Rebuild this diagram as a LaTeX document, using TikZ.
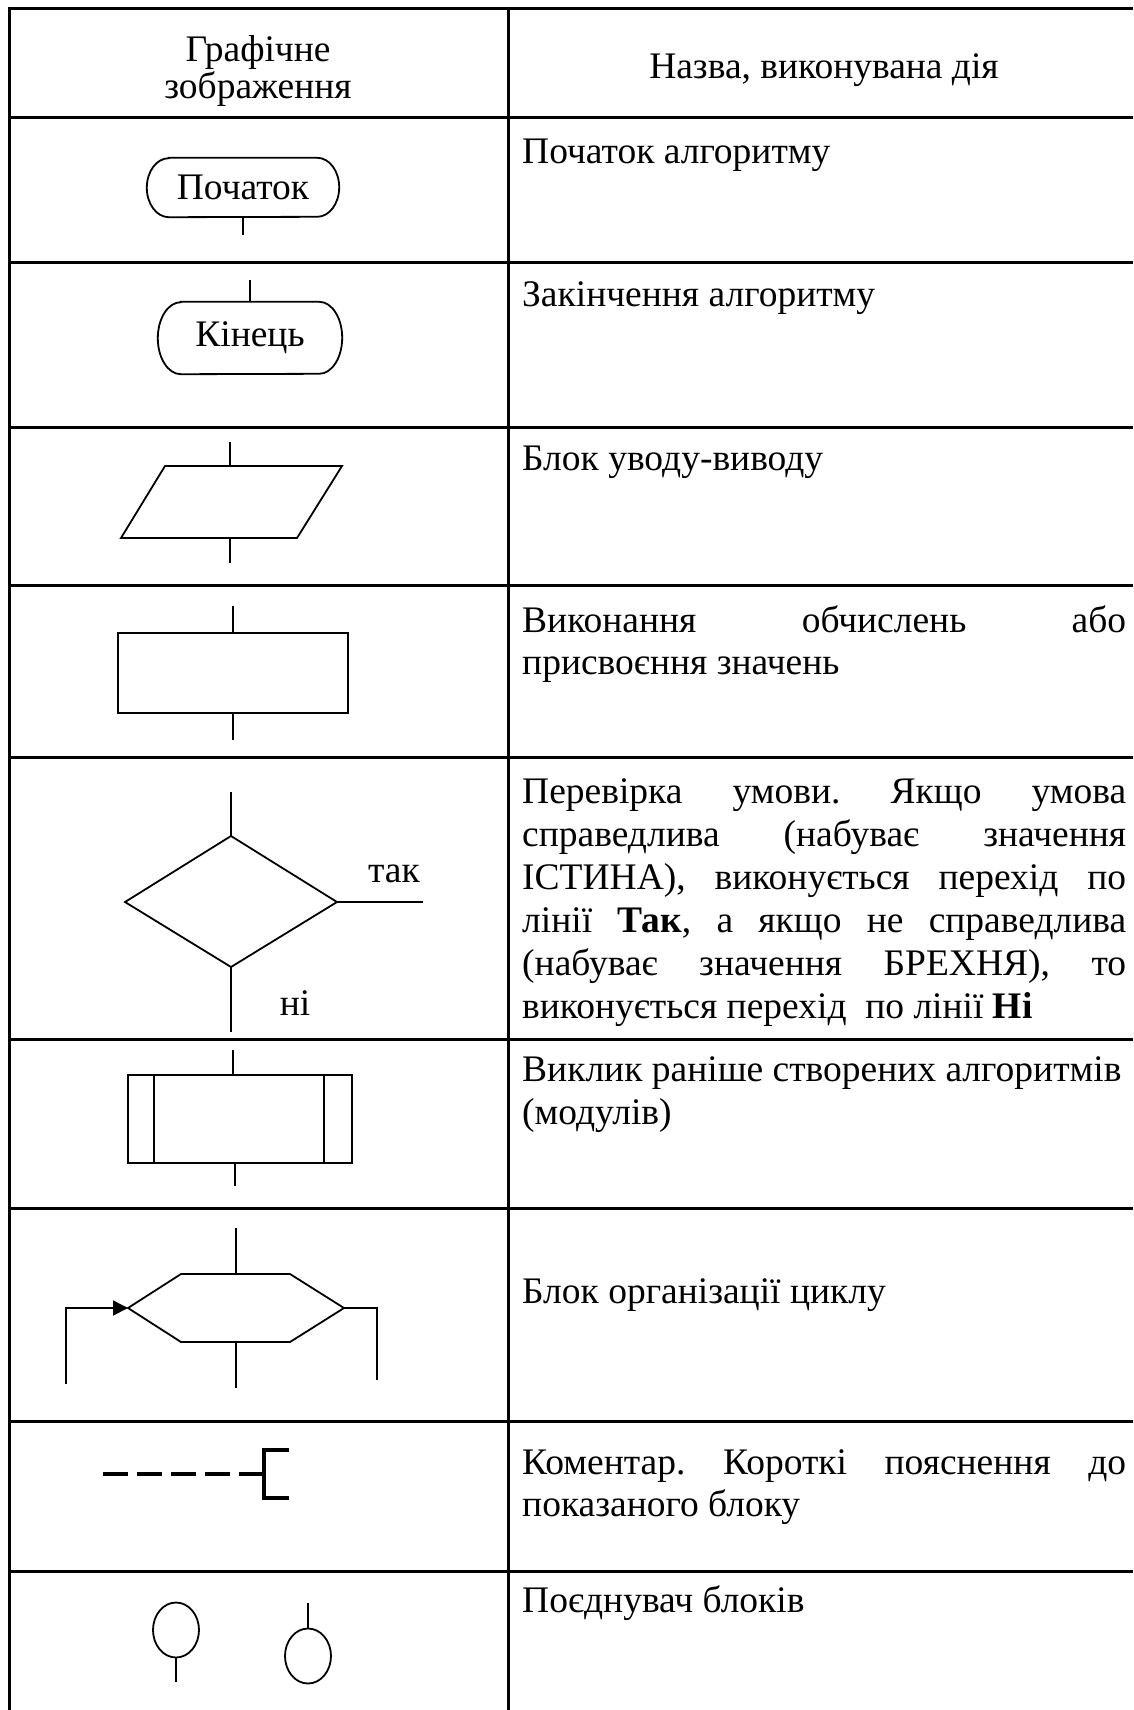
\documentclass[tikz,border=0pt]{standalone}
\usepackage{fontspec}
\setmainfont{Liberation Serif}
\usetikzlibrary{arrows.meta,shapes.geometric}
\begin{document}
\begin{tikzpicture}[x=1pt,y=-1pt,
  grid/.style={line width=3pt},
  shp/.style={line width=1.8pt},
  lbl/.style={font=\fontsize{37.5}{43}\selectfont, inner sep=0pt},
  desc/.style={lbl, anchor=base west},
  termtext/.style={inner sep=0pt, font=\fontsize{37.5}{43}\selectfont},
  boxnode/.style={shp, draw, inner sep=0pt},
  conn/.style={shp, draw, ellipse, inner sep=0pt, minimum width=46pt, minimum height=55pt}]
\useasboundingbox (0,0) rectangle (1133,1710);
% table
\draw[grid] (9,1710) -- (9,9) -- (1133,9);
\draw[grid] (508,9) -- (508,1710);
\foreach \yy in {117,262,427,585,757,1039,1208,1421,1571}
  \draw[grid] (9,\yy) -- (1133,\yy);
% header
\node[lbl, anchor=base] (h1a) at (258,62) {Графічне};
\node[lbl, anchor=base] (h1b) at (258,98) {зображення};
\node[lbl, anchor=base] (h2) at (824,78) {Назва, виконувана дія};
% row 1
\node[termtext, minimum width=192pt, minimum height=59pt] (start) at (243,187.5) {Початок};
\draw[shp] ([xshift=22pt]start.north west) -- ([xshift=-22pt]start.north east)
  arc[start angle=90, end angle=-90, x radius=22pt, y radius=29.5pt]
  -- ([xshift=22pt]start.south west)
  arc[start angle=270, end angle=90, x radius=22pt, y radius=29.5pt] -- cycle;
\coordinate (startout) at (243,235);
\draw[shp] (start.south) -- (startout);
\node[desc] (t1) at (522,163) {Початок алгоритму};
% row 2
\coordinate (endin) at (250,280);
\node[termtext, minimum width=184pt, minimum height=72pt] (end) at (250,338) {Кінець};
\draw[shp] ([xshift=23pt]end.north west) -- ([xshift=-23pt]end.north east)
  arc[start angle=90, end angle=-90, x radius=23pt, y radius=36pt]
  -- ([xshift=23pt]end.south west)
  arc[start angle=270, end angle=90, x radius=23pt, y radius=36pt] -- cycle;
\draw[shp] (endin) -- (end.north);
\node[desc] (t2) at (522,306) {Закінчення алгоритму};
% row 3
\coordinate (io1) at (165,466); \coordinate (io2) at (342,466);
\coordinate (io3) at (297,538); \coordinate (io4) at (121,538);
\draw[shp] (io1) -- (io2) -- (io3) -- (io4) -- cycle;
\coordinate (ioin) at (230,442); \coordinate (iotop) at (230,466);
\coordinate (iobot) at (230,538); \coordinate (ioout) at (230,563);
\draw[shp] (ioin) -- (iotop);
\draw[shp] (iobot) -- (ioout);
\node[desc] (t3) at (522,470) {Блок уводу-виводу};
% row 4
\node[boxnode, minimum width=230pt, minimum height=80pt] (proc) at (233,673) {};
\coordinate (procin) at (233,606); \coordinate (procout) at (233,740);
\draw[shp] (procin) -- (proc.north);
\draw[shp] (proc.south) -- (procout);
\node[desc] (t4a) at (522,632) {\hbox to 604pt{Виконання\hfill обчислень\hfill або}};
\node[desc] (t4b) at (522,674) {присвоєння значень};
% row 5
\coordinate (dt) at (231,836); \coordinate (dr) at (337,902);
\coordinate (db) at (231,967); \coordinate (dl) at (125,902);
\draw[shp] (dt) -- (dr) -- (db) -- (dl) -- cycle;
\coordinate (din) at (231,792); \coordinate (dyes) at (423,902);
\coordinate (dno) at (231,1032);
\draw[shp] (din) -- (dt);
\draw[shp] (dr) -- (dyes);
\draw[shp] (db) -- (dno);
\node[lbl, anchor=base] (yes) at (394,882) {так};
\node[lbl, anchor=base] (no) at (295,1015) {ні};
\node[desc] (t5a) at (522,803) {\hbox to 604pt{Перевірка\hfill умови.\hfill Якщо\hfill умова}};
\node[desc] (t5b) at (522,846) {\hbox to 604pt{справедлива\hfill (набуває\hfill значення}};
\node[desc] (t5c) at (522,889) {\hbox to 604pt{ІСТИНА),\hfill виконується\hfill перехід\hfill по}};
\node[desc] (t5d) at (522,932) {\hbox to 604pt{лінії\hfill \textbf{Так},\hfill а\hfill якщо\hfill не\hfill справедлива}};
\node[desc] (t5e) at (522,975) {\hbox to 604pt{(набуває\hfill значення\hfill БРЕХНЯ),\hfill то}};
\node[desc] (t5f) at (522,1018) {виконується перехід\ \ по лінії \textbf{Ні}};
% row 6
\node[boxnode, minimum width=224pt, minimum height=88pt] (sub) at (240,1119) {};
\draw[shp] (154,1075) -- (154,1163);
\draw[shp] (324,1075) -- (324,1163);
\coordinate (subin) at (233,1050); \coordinate (subout) at (235,1186);
\draw[shp] (subin) -- (233,1075);
\draw[shp] (235,1163) -- (subout);
\node[desc] (t6a) at (522,1081) {Виклик раніше створених алгоритмів};
\node[desc] (t6b) at (522,1124) {(модулів)};
% row 7
\coordinate (hl) at (128,1308); \coordinate (htl) at (181,1274);
\coordinate (htr) at (290,1274); \coordinate (hr) at (344,1308);
\coordinate (hbr) at (290,1342); \coordinate (hbl) at (181,1342);
\draw[shp] (hl) -- (htl) -- (htr) -- (hr) -- (hbr) -- (hbl) -- cycle;
\coordinate (hin) at (236,1228); \coordinate (hout) at (236,1388);
\draw[shp] (hin) -- (236,1274);
\draw[shp] (236,1342) -- (hout);
\coordinate (loopin) at (66,1384);
\draw[shp, -{Triangle[length=15pt,width=15pt]}] (loopin) -- (66,1308) -- (hl);
\coordinate (loopout) at (377,1380);
\draw[shp] (hr) -- (377,1308) -- (loopout);
\node[desc] (t7) at (522,1303) {Блок організації циклу};
% row 8
\coordinate (cm1) at (103,1474); \coordinate (cm2) at (264,1474);
\draw[line width=3.5pt, dash pattern=on 25pt off 9pt] (cm1) -- (cm2);
\draw[line width=3.5pt] (289,1450) -- (264,1450) -- (264,1498) -- (289,1498);
\node[desc] (t8a) at (522,1474) {\hbox to 604pt{Коментар.\hfill Короткі\hfill пояснення\hfill до}};
\node[desc] (t8b) at (522,1516) {показаного блоку};
% row 9
\node[conn] (c1) at (176,1630) {};
\coordinate (c1out) at (176,1682);
\draw[shp] (c1.south) -- (c1out);
\node[conn] (c2) at (308,1656) {};
\coordinate (c2in) at (308,1603);
\draw[shp] (c2in) -- (c2.north);
\node[desc] (t9) at (522,1612) {Поєднувач блоків};
\end{tikzpicture}
\end{document}
